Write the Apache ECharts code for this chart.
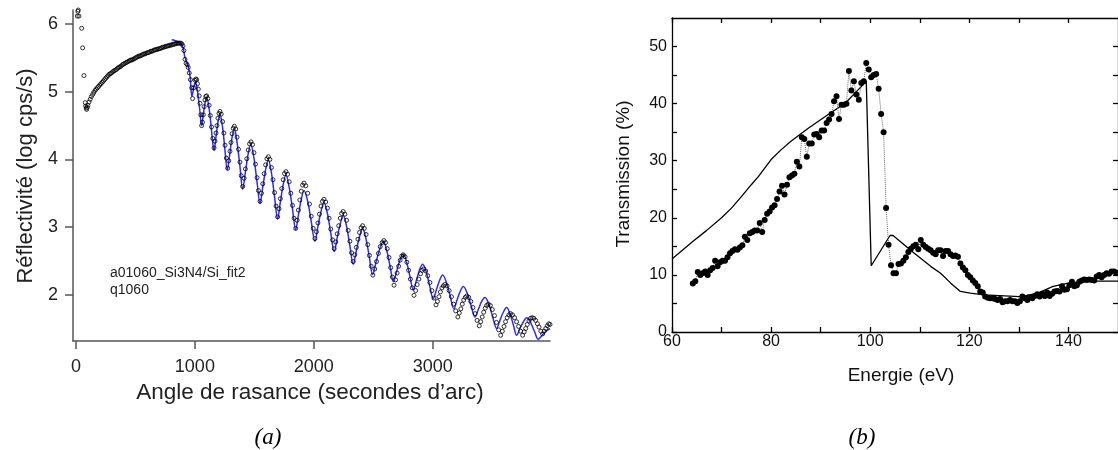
<!DOCTYPE html>
<html>
<head>
<meta charset="utf-8">
<script src="https://cdn.jsdelivr.net/npm/echarts@6/dist/echarts.min.js"></script>
<style>
html,body{margin:0;padding:0;background:#fff;}
#chart{width:1118px;height:450px;}
</style>
</head>
<body>
<div id="chart"></div>
<script>
// ---------- Panel (a): reflectivity ----------
const reflXTicks = [0, 1000, 2000, 3000];
const reflYTicks = [2, 3, 4, 5, 6];
const reflMeasured = [
[11,6.12],[16,6.19],[19,6.21],[25,6.12],[48,5.94],[56,5.65],[67,5.24],[78,4.84],[82,4.79],[86,4.76],[90,4.74],[95,4.77],
[100,4.80],[110,4.85],[120,4.89],[130,4.93],[140,4.96],[150,4.99],[160,5.02],[170,5.04],[180,5.06],[190,5.08],
[200,5.10],[210,5.12],[220,5.14],[230,5.16],[240,5.18],[250,5.20],[260,5.22],[270,5.24],[280,5.26],[290,5.27],
[300,5.28],[310,5.30],[320,5.31],[330,5.32],[340,5.33],[350,5.35],[360,5.36],[370,5.37],[380,5.38],[390,5.40],
[400,5.41],[410,5.42],[420,5.43],[430,5.44],[440,5.45],[450,5.46],[460,5.47],[470,5.47],[480,5.48],[490,5.49],
[500,5.50],[510,5.51],[520,5.52],[530,5.53],[540,5.53],[550,5.54],[560,5.55],[570,5.56],[580,5.56],[590,5.57],
[600,5.58],[610,5.58],[620,5.59],[630,5.60],[640,5.60],[650,5.61],[660,5.62],[670,5.62],[680,5.63],[690,5.63],
[700,5.64],[710,5.64],[720,5.65],[730,5.66],[740,5.66],[750,5.67],[760,5.67],[770,5.68],[780,5.68],[790,5.69],
[800,5.69],[810,5.70],[820,5.70],[830,5.71],[840,5.71],[850,5.72],[860,5.72],[870,5.72],[880,5.72],[890,5.71],
[900,5.68],[908,5.61],[917,5.48],[926,5.42],[936,5.40],[944,5.36],[953,5.28],[963,5.18],[973,5.06],[981,4.90],
[991,5.06],[1001,5.17],[1008,5.19],[1015,5.18],[1022,5.12],[1029,5.04],[1036,4.94],[1043,4.83],[1050,4.66],[1057,4.50],
[1064,4.55],[1071,4.66],[1078,4.78],[1085,4.88],[1092,4.93],[1099,4.94],
[1109,4.90],[1120,4.80],[1130,4.65],[1140,4.48],[1151,4.31],[1161,4.17],
[1169,4.27],[1178,4.39],[1186,4.50],[1194,4.61],[1203,4.68],[1211,4.71],
[1222,4.67],[1233,4.56],[1244,4.39],[1254,4.21],[1265,4.02],[1276,3.87],
[1285,3.98],[1295,4.12],[1304,4.25],[1313,4.38],[1323,4.46],[1332,4.49],
[1344,4.45],[1355,4.33],[1367,4.15],[1379,3.96],[1390,3.76],[1402,3.60],
[1414,3.72],[1425,3.86],[1437,4.01],[1449,4.14],[1460,4.23],[1472,4.26],
[1485,4.22],[1497,4.10],[1510,3.93],[1523,3.73],[1535,3.54],[1548,3.38],
[1560,3.50],[1571,3.64],[1583,3.79],[1595,3.92],[1606,4.01],[1618,4.04],
[1631,4.00],[1644,3.88],[1657,3.70],[1670,3.51],[1683,3.31],[1696,3.15],
[1708,3.27],[1719,3.42],[1731,3.57],[1743,3.70],[1754,3.79],[1766,3.82],
[1780,3.78],[1793,3.67],[1807,3.50],[1821,3.32],[1834,3.13],[1848,2.98],
[1860,3.10],[1871,3.25],[1883,3.40],[1895,3.53],[1906,3.62],[1918,3.65],
[1933,3.61],[1949,3.50],[1964,3.34],[1979,3.16],[1995,2.98],[2010,2.83],
[2023,2.93],[2035,3.06],[2048,3.19],[2061,3.31],[2073,3.38],[2086,3.41],
[2100,3.37],[2115,3.28],[2129,3.13],[2143,2.97],[2158,2.81],[2172,2.68],
[2185,2.78],[2197,2.90],[2210,3.02],[2223,3.13],[2235,3.20],[2248,3.23],
[2262,3.19],[2276,3.10],[2290,2.95],[2304,2.79],[2318,2.62],[2332,2.49],
[2345,2.59],[2358,2.70],[2372,2.82],[2385,2.92],[2398,2.99],[2411,3.02],
[2425,2.98],[2440,2.89],[2454,2.74],[2468,2.58],[2483,2.42],[2497,2.29],
[2513,2.38],[2528,2.49],[2544,2.61],[2559,2.71],[2575,2.77],[2590,2.80],
[2604,2.77],[2618,2.68],[2633,2.55],[2647,2.40],[2661,2.26],[2675,2.14],
[2688,2.22],[2701,2.32],[2714,2.42],[2727,2.51],[2740,2.57],[2753,2.59],
[2768,2.56],[2783,2.48],[2798,2.36],[2813,2.23],[2828,2.10],[2843,1.99],
[2857,2.06],[2870,2.15],[2884,2.23],[2898,2.31],[2911,2.36],[2925,2.38],
[2942,2.35],[2959,2.28],[2977,2.18],[2994,2.06],[3011,1.95],[3028,1.85],
[3040,1.90],[3053,1.97],[3065,2.04],[3078,2.10],[3090,2.13],[3103,2.15],
[3121,2.13],[3139,2.06],[3158,1.97],[3176,1.86],[3194,1.76],[3212,1.67],
[3224,1.73],[3237,1.79],[3249,1.86],[3261,1.92],[3274,1.96],[3286,1.98],
[3304,1.96],[3321,1.90],[3339,1.81],[3357,1.72],[3374,1.62],[3392,1.54],
[3404,1.60],[3417,1.67],[3429,1.74],[3442,1.80],[3454,1.84],[3467,1.86],
[3485,1.84],[3502,1.78],[3520,1.69],[3537,1.59],[3555,1.48],[3572,1.40],
[3586,1.46],[3600,1.53],[3613,1.60],[3627,1.66],[3641,1.70],[3655,1.72],
[3672,1.70],[3689,1.66],[3706,1.60],[3723,1.53],[3740,1.46],[3757,1.40],
[3770,1.45],[3783,1.50],[3796,1.56],[3810,1.61],[3823,1.65],[3836,1.66],
[3851,1.65],[3866,1.62],[3881,1.57],[3895,1.52],[3910,1.46],[3925,1.42],
[3938,1.46],[3951,1.50],[3964,1.54],[3977,1.57],[3987,1.56]
];
const reflFit = [
[805,5.77],[830,5.76],[855,5.74],[880,5.72],[900,5.66],[915,5.52],[930,5.44],[945,5.37],[960,5.22],[975,4.93],
[985,5.01],[995,5.10],[1005,5.15],[1022,5.01],[1040,4.75],[1057,4.50],[1071,4.66],[1085,4.83],[1099,4.92],
[1120,4.75],[1140,4.43],[1161,4.13],[1178,4.34],[1194,4.55],[1211,4.67],
[1232,4.49],[1252,4.16],[1273,3.84],[1293,4.07],[1312,4.32],[1332,4.45],
[1355,4.25],[1379,3.90],[1402,3.56],[1425,3.81],[1447,4.07],[1470,4.22],
[1496,4.03],[1522,3.68],[1548,3.35],[1571,3.59],[1595,3.85],[1618,3.99],
[1644,3.80],[1670,3.45],[1696,3.12],[1719,3.37],[1743,3.63],[1766,3.77],
[1793,3.59],[1821,3.27],[1848,2.96],[1871,3.18],[1895,3.41],[1918,3.54],
[1949,3.38],[1979,3.08],[2010,2.79],[2035,3.01],[2061,3.23],[2086,3.36],
[2115,3.20],[2143,2.91],[2172,2.64],[2197,2.84],[2223,3.05],[2248,3.17],
[2276,3.01],[2304,2.72],[2332,2.45],[2358,2.65],[2385,2.86],[2411,2.98],
[2439,2.83],[2467,2.56],[2495,2.30],[2525,2.49],[2555,2.68],[2585,2.79],
[2613,2.66],[2642,2.42],[2670,2.19],[2698,2.35],[2725,2.51],[2753,2.60],
[2781,2.48],[2809,2.27],[2837,2.07],[2863,2.21],[2890,2.37],[2916,2.45],
[2946,2.34],[2975,2.13],[3005,1.94],[3031,2.07],[3058,2.21],[3084,2.29],
[3116,2.18],[3147,1.98],[3179,1.79],[3205,1.92],[3232,2.05],[3258,2.12],
[3291,2.02],[3323,1.84],[3356,1.67],[3384,1.78],[3412,1.90],[3440,1.96],
[3473,1.86],[3505,1.67],[3538,1.50],[3566,1.62],[3594,1.74],[3622,1.81],
[3650,1.72],[3678,1.56],[3706,1.40],[3734,1.50],[3763,1.60],[3791,1.66],
[3823,1.59],[3856,1.46],[3888,1.34],[3921,1.40],[3954,1.46],[3987,1.50]
];

// ---------- Panel (b): transmission ----------
const energyTicks = [60, 80, 100, 120, 140];
const energyMinorTicks = [60, 70, 80, 90, 100, 110, 120, 130, 140];
const transTicks = [0, 10, 20, 30, 40, 50];
const transMinorTicks = [0, 5, 10, 15, 20, 25, 30, 35, 40, 45, 50];
const energyEV = [
64.2,64.7,65.2,65.7,66.2,66.7,67.2,67.7,68.2,68.7,69.2,69.7,70.2,70.7,71.2,71.7,72.2,72.7,73.2,73.7,
74.2,74.7,75.2,75.7,76.2,76.7,77.2,77.7,78.2,78.7,79.2,79.7,80.2,80.7,81.2,81.7,82.2,82.7,83.2,83.7,
84.2,84.7,85.2,85.7,86.2,86.7,87.2,87.7,88.2,88.7,89.2,89.7,90.2,90.7,91.2,91.7,92.2,92.7,93.2,93.7,
94.2,94.7,95.2,95.7,96.2,96.7,97.2,97.7,98.2,98.7,99.2,99.7,100.2,100.7,101.2,101.7,102.2,102.7,103.2,103.7,
104.2,104.7,105.2,105.7,106.2,106.7,107.2,107.7,108.2,108.7,109.2,109.7,110.2,110.7,111.2,111.7,112.2,112.7,113.2,113.7,
114.2,114.7,115.2,115.7,116.2,116.7,117.2,117.7,118.2,118.7,119.2,119.7,120.2,120.7,121.2,121.7,122.2,122.7,123.2,123.7,
124.2,124.7,125.2,125.7,126.2,126.7,127.2,127.7,128.2,128.7,129.2,129.7,130.2,130.7,131.2,131.7,132.2,132.7,133.2,133.7,
134.2,134.7,135.2,135.7,136.2,136.7,137.2,137.7,138.2,138.7,139.2,139.7,140.2,140.7,141.2,141.7,142.2,142.7,143.2,143.7,
144.2,144.7,145.2,145.7,146.2,146.7,147.2,147.7,148.2,148.7,149.2,149.7
];
const transMeasured = [
8.5,8.9,10.5,10.0,10.3,10.6,10.0,10.8,11.2,12.5,11.5,12.2,12.5,12.5,13.1,13.8,14.2,14.5,14.4,14.8,
15.2,16.7,16.1,17.3,17.5,17.8,17.8,19.1,17.5,19.6,20.7,21.1,21.8,22.2,23.3,24.6,25.6,24.1,25.8,27.1,
27.4,27.7,29.8,29.0,34.1,33.8,30.7,33.0,33.0,34.6,34.7,34.1,35.3,35.3,36.6,37.2,38.2,40.4,41.3,37.3,
39.8,39.8,40.0,45.7,42.3,43.9,41.6,40.7,43.6,43.9,47.1,46.0,44.6,45.0,45.2,42.6,38.2,35.0,21.7,15.3,
11.7,10.3,10.3,11.9,12.0,12.5,13.1,14.0,14.6,15.0,15.3,14.5,16.1,15.3,14.9,14.6,14.3,13.9,13.6,14.3,
14.3,13.3,14.2,14.2,13.6,13.3,13.4,13.2,12.0,11.3,10.8,10.0,9.6,9.0,8.6,8.0,7.1,6.9,6.2,6.0,
5.9,5.9,5.8,5.6,5.8,5.2,5.4,5.4,5.6,5.4,5.4,5.1,5.4,6.2,5.9,5.6,6.1,5.9,6.3,6.6,
6.2,6.7,6.3,6.9,6.3,6.7,7.1,7.2,7.1,8.0,7.4,7.5,8.2,8.8,8.0,8.2,8.8,9.0,9.2,9.1,
9.2,9.1,9.0,9.7,10.0,9.6,10.0,10.3,10.2,10.6,10.6,10.4
];
const transModel = [
[60,12.8],[64,15.7],[67,17.8],[70,20.0],[72,21.7],[74,23.7],[76,25.8],[77.5,27.3],[80,30.2],[82,31.9],[84,33.4],
[87.5,35.7],[91,37.8],[95,40.1],[99.2,43.9],[100.2,11.6],[104,16.9],[104.6,16.9],[108.9,13.8],[112.2,11.5],
[114.2,10.3],[116.2,8.6],[118.2,7.1],[120.2,6.8],[123,6.5],[130.2,6.2],[133.5,6.7],[136.9,8.0],[140.2,8.6],
[144.2,8.9],[150,8.9]
];

const FONT = '"Liberation Sans", Arial, Helvetica, sans-serif';
const SERIF = '"Liberation Serif", "Times New Roman", serif';
const chart = echarts.init(document.getElementById('chart'), null, {renderer: 'canvas'});

const axA = {color: '#555', width: 1.5};
const axB = {color: '#000', width: 1.3};
const plain = v => String(v);

chart.setOption({
  animation: false,
  backgroundColor: '#fff',
  grid: [
    {left: 73, top: 10, width: 477, height: 331, containLabel: false},
    {left: 672, top: 18, width: 450, height: 314, containLabel: false}
  ],
  xAxis: [
    {gridIndex: 0, type: 'value', min: -25, max: 3987,
     axisLine: {show: true, onZero: false, lineStyle: axA},
     axisTick: {show: true, length: 8, customValues: reflXTicks, lineStyle: axA},
     axisLabel: {customValues: reflXTicks, formatter: plain, fontSize: 18, color: '#222', margin: 17, fontFamily: FONT},
     splitLine: {show: false}},
    {gridIndex: 1, type: 'value', min: 60, max: 150, position: 'bottom',
     axisLine: {show: true, onZero: false, lineStyle: axB},
     axisTick: {show: true, inside: true, length: 5, customValues: energyMinorTicks, lineStyle: axB},
     axisLabel: {customValues: energyTicks, formatter: plain, fontSize: 16, color: '#111', margin: 2, fontFamily: FONT},
     splitLine: {show: false}},
    {gridIndex: 1, type: 'value', min: 60, max: 150, position: 'top',
     axisLine: {show: true, onZero: false, lineStyle: axB},
     axisTick: {show: true, inside: true, length: 5, customValues: energyMinorTicks, lineStyle: axB},
     axisLabel: {show: false},
     splitLine: {show: false}}
  ],
  yAxis: [
    {gridIndex: 0, type: 'value', min: 1.315, max: 6.21,
     axisLine: {show: true, onZero: false, lineStyle: axA},
     axisTick: {show: true, length: 8, customValues: reflYTicks, lineStyle: axA},
     axisLabel: {customValues: reflYTicks, formatter: plain, fontSize: 18, color: '#222', margin: 15, fontFamily: FONT},
     splitLine: {show: false}},
    {gridIndex: 1, type: 'value', min: 0, max: 55, position: 'left',
     axisLine: {show: true, onZero: false, lineStyle: axB},
     axisTick: {show: true, inside: true, length: 5, customValues: transMinorTicks, lineStyle: axB},
     axisLabel: {customValues: transTicks, formatter: plain, fontSize: 16, color: '#111', margin: 5, fontFamily: FONT},
     splitLine: {show: false}},
    {gridIndex: 1, type: 'value', min: 0, max: 55, position: 'right',
     axisLine: {show: true, onZero: false, lineStyle: axB},
     axisTick: {show: true, inside: true, length: 5, customValues: transMinorTicks, lineStyle: axB},
     axisLabel: {show: false},
     splitLine: {show: false}}
  ],
  series: [
    {type: 'line', xAxisIndex: 0, yAxisIndex: 0, data: reflFit, showSymbol: false, smooth: 0.35,
     lineStyle: {color: '#2d2df5', width: 1.5}, z: 2},
    {type: 'scatter', xAxisIndex: 0, yAxisIndex: 0, data: reflMeasured, symbol: 'circle', symbolSize: 4,
     itemStyle: {color: 'rgba(0,0,0,0)', borderColor: '#000', borderWidth: 1}, z: 3},
    {type: 'line', xAxisIndex: 1, yAxisIndex: 1, data: transModel, showSymbol: false,
     lineStyle: {color: '#000', width: 1.3}, z: 2},
    {type: 'line', xAxisIndex: 1, yAxisIndex: 1,
     data: energyEV.map((e, i) => [e, transMeasured[i]]),
     symbol: 'circle', symbolSize: 6, showSymbol: true,
     itemStyle: {color: '#000'},
     lineStyle: {color: '#666', width: 1, type: 'dotted'}, z: 3}
  ],
  graphic: [
    {type: 'text', x: 26, y: 176, rotation: Math.PI / 2,
     style: {text: 'Réflectivité (log cps/s)', fontSize: 22, fontFamily: FONT, fill: '#222', align: 'center', verticalAlign: 'middle'}},
    {type: 'text', x: 310, y: 393,
     style: {text: 'Angle de rasance (secondes d’arc)', fontSize: 22.5, fontFamily: FONT, fill: '#222', align: 'center', verticalAlign: 'middle'}},
    {type: 'text', x: 110, y: 273,
     style: {text: 'a01060_Si3N4/Si_fit2', fontSize: 14, fontFamily: FONT, fill: '#222', align: 'left', verticalAlign: 'middle'}},
    {type: 'text', x: 110, y: 290,
     style: {text: 'q1060', fontSize: 14, fontFamily: FONT, fill: '#222', align: 'left', verticalAlign: 'middle'}},
    {type: 'text', x: 624, y: 174, rotation: Math.PI / 2,
     style: {text: 'Transmission (%)', fontSize: 19, fontFamily: FONT, fill: '#111', align: 'center', verticalAlign: 'middle'}},
    {type: 'text', x: 901, y: 376,
     style: {text: 'Energie (eV)', fontSize: 19, fontFamily: FONT, fill: '#111', align: 'center', verticalAlign: 'middle'}},
    {type: 'text', x: 268, y: 438,
     style: {text: '(a)', fontSize: 23, fontStyle: 'italic', fontFamily: SERIF, fill: '#000', align: 'center', verticalAlign: 'middle'}},
    {type: 'text', x: 862, y: 438,
     style: {text: '(b)', fontSize: 23, fontStyle: 'italic', fontFamily: SERIF, fill: '#000', align: 'center', verticalAlign: 'middle'}}
  ]
});
</script>
</body>
</html>
